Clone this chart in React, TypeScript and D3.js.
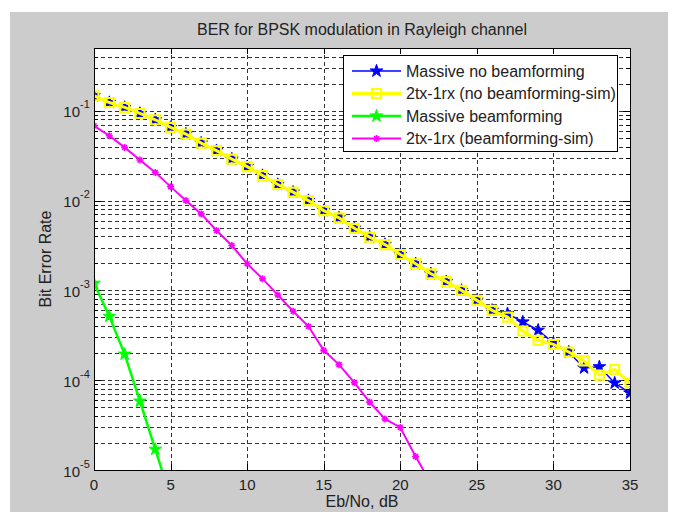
import React from 'react';
import * as d3 from 'd3';

// Eb/No in dB
const snrDb = [0, 1, 2, 3, 4, 5, 6, 7, 8, 9, 10, 11, 12, 13, 14, 15, 16, 17, 18, 19, 20, 21, 22, 23, 24, 25, 26, 27, 28, 29, 30, 31, 32, 33, 34, 35];

const massiveNoBf = [0.147, 0.1236, 0.1089, 0.0933, 0.0794, 0.0652, 0.0551, 0.0437, 0.036, 0.029, 0.0239, 0.019, 0.0151, 0.0124, 0.01, 0.00774, 0.00643, 0.00491, 0.00392, 0.00324, 0.00251, 0.00198, 0.00153, 0.00125, 0.001, 0.000774, 0.0006, 0.000551, 0.000445, 0.00036, 0.000259, 0.000206, 0.000137, 0.000141, 0.000093, 0.000072];

const txNoBfSim = [0.147, 0.1236, 0.1089, 0.0933, 0.0794, 0.0652, 0.0551, 0.0437, 0.036, 0.029, 0.0239, 0.019, 0.0151, 0.0124, 0.01, 0.00774, 0.00643, 0.00491, 0.00392, 0.00324, 0.00251, 0.00198, 0.00153, 0.00125, 0.001, 0.000774, 0.0006, 0.000505, 0.000353, 0.000278, 0.000251, 0.000206, 0.000164, 0.000114, 0.000132, 0.000093];

const massiveBf = [0.0012, 0.000514, 0.000195, 0.0000585, 0.000017, 0.000005];

const txBfSim = [0.068, 0.0527, 0.0391, 0.0283, 0.0206, 0.0143, 0.01, 0.00711, 0.00464, 0.00316, 0.00198, 0.00135, 0.00089, 0.000585, 0.000398, 0.000215, 0.000149, 0.000094, 0.000057, 0.000037, 0.0000298, 0.0000141, 0.0000072];

const xTicks = [0, 5, 10, 15, 20, 25, 30, 35];
const yDecades = [-5, -4, -3, -2, -1];

const legendLabels = [
  'Massive no beamforming',
  '2tx-1rx (no beamforming-sim)',
  'Massive beamforming',
  '2tx-1rx (beamforming-sim)',
];

const W = 675;
const H = 516;
const left = 94;
const right = 630;
const top = 48;
const bottom = 470;
const font = 'Liberation Sans, Arial, sans-serif';

const x = d3.scaleLinear().domain([0, 35]).range([left, right]);
const y = d3.scaleLog().domain([1e-5, 0.5]).range([bottom, top]);

const starPath = d3.symbol().type(d3.symbolStar).size(50)()!;
const squarePath = d3.symbol().type(d3.symbolSquare).size(81)()!;
const asterisk = (r: number) =>
  `M${-r},0L${r},0M0,${-r}L0,${r}M${-r * 0.7},${-r * 0.7}L${r * 0.7},${r * 0.7}M${-r * 0.7},${r * 0.7}L${r * 0.7},${-r * 0.7}`;

const lineGen = (vals: number[]) =>
  d3
    .line<number>()
    .x((_, i) => x(snrDb[i]))
    .y((d) => y(d))(vals)!;

// minor + major horizontal grid values within the y domain
const gridVals: number[] = [];
yDecades.forEach((k) => {
  for (let m = 1; m <= 9; m++) {
    const v = m * Math.pow(10, k);
    if (v < 0.5) gridVals.push(v);
  }
});

const App: React.FC = () => {
  const series = [
    { vals: massiveNoBf, color: '#0000ff', width: 1.5, marker: 'star' },
    { vals: txNoBfSim, color: '#ffff00', width: 3, marker: 'square' },
    { vals: massiveBf, color: '#00ff00', width: 2.5, marker: 'star' },
    { vals: txBfSim, color: '#ff00ff', width: 2, marker: 'ast' },
  ];

  const drawMarker = (m: string, color: string, cx: number, cy: number, key: React.Key) => {
    if (m === 'star')
      return <path key={key} d={starPath} transform={`translate(${cx},${cy})`} fill={color} stroke={color} strokeWidth={1} />;
    if (m === 'square')
      return <path key={key} d={squarePath} transform={`translate(${cx},${cy})`} fill="none" stroke={color} strokeWidth={2.2} />;
    return <path key={key} d={asterisk(3.5)} transform={`translate(${cx},${cy})`} fill="none" stroke={color} strokeWidth={1.6} />;
  };

  return (
    <svg width={W} height={H} style={{ position: 'absolute', left: 0, top: 0, background: '#fff' }}>
      <rect x={10} y={12} width={658} height={500} fill="#cccccc" />
      <rect x={left} y={top} width={right - left} height={bottom - top} fill="#fff" />
      <defs>
        <clipPath id="plot">
          <rect x={left} y={top} width={right - left} height={bottom - top} />
        </clipPath>
      </defs>

      {/* grid */}
      <g stroke="#333" strokeWidth={1} strokeDasharray="4,3" fill="none">
        {gridVals.map((v, i) => (
          <line key={`h${i}`} x1={left} x2={right} y1={Math.round(y(v)) + 0.5} y2={Math.round(y(v)) + 0.5} />
        ))}
        {xTicks.slice(1, -1).map((t) => (
          <line key={`v${t}`} x1={Math.round(x(t)) + 0.5} x2={Math.round(x(t)) + 0.5} y1={top} y2={bottom} />
        ))}
      </g>

      {/* ticks */}
      <g stroke="#000" strokeWidth={1}>
        {xTicks.map((t) => (
          <g key={`xt${t}`}>
            <line x1={Math.round(x(t)) + 0.5} x2={Math.round(x(t)) + 0.5} y1={bottom} y2={bottom - 6} />
            <line x1={Math.round(x(t)) + 0.5} x2={Math.round(x(t)) + 0.5} y1={top} y2={top + 6} />
          </g>
        ))}
        {gridVals.map((v, i) => {
          const major = Math.abs(Math.log10(v) - Math.round(Math.log10(v))) < 1e-9;
          const len = major ? 7 : 4;
          const yy = Math.round(y(v)) + 0.5;
          return (
            <g key={`yt${i}`}>
              <line x1={left} x2={left + len} y1={yy} y2={yy} />
              <line x1={right} x2={right - len} y1={yy} y2={yy} />
            </g>
          );
        })}
      </g>

      {/* series */}
      <g clipPath="url(#plot)">
        {series.map((s, si) => (
          <g key={si}>
            <path d={lineGen(s.vals)} fill="none" stroke={s.color} strokeWidth={s.width} />
            {s.vals.map((v, i) => drawMarker(s.marker, s.color, x(snrDb[i]), y(v), i))}
          </g>
        ))}
      </g>

      <rect x={left + 0.5} y={top + 0.5} width={right - left} height={bottom - top} fill="none" stroke="#000" strokeWidth={1} />

      {/* tick labels */}
      <g fontFamily={font} fill="#222">
        {xTicks.map((t) => (
          <text key={`xl${t}`} x={x(t)} y={490} fontSize={15} textAnchor="middle">
            {t}
          </text>
        ))}
        {yDecades.map((k) => (
          <g key={`yl${k}`}>
            <text x={80} y={y(Math.pow(10, k)) + 6.5} fontSize={15} textAnchor="end">
              10
            </text>
            <text x={80} y={y(Math.pow(10, k)) - 2.5} fontSize={11} textAnchor="start">
              {`-${-k}`}
            </text>
          </g>
        ))}
        <text x={(left + right) / 2} y={35} fontSize={16} textAnchor="middle">
          BER for BPSK modulation in Rayleigh channel
        </text>
        <text x={(left + right) / 2} y={507} fontSize={16} textAnchor="middle">
          Eb/No, dB
        </text>
        <text transform={`translate(51,${(top + bottom) / 2}) rotate(-90)`} fontSize={16} textAnchor="middle">
          Bit Error Rate
        </text>
      </g>

      {/* legend */}
      <g>
        <rect x={343.5} y={55.5} width={274} height={96} fill="#fff" stroke="#000" strokeWidth={1} />
        {series.map((s, i) => {
          const ly = 71 + i * 22.5;
          return (
            <g key={`lg${i}`}>
              <line x1={352} x2={401} y1={ly} y2={ly} stroke={s.color} strokeWidth={s.width} />
              {drawMarker(s.marker, s.color, 376.5, ly, 'm')}
              <text x={406} y={ly + 5.5} fontSize={16} fontFamily={font} fill="#222">
                {legendLabels[i]}
              </text>
            </g>
          );
        })}
      </g>
    </svg>
  );
};

export default App;
